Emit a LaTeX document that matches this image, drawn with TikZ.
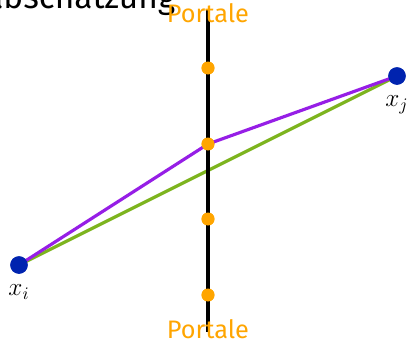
\documentclass[tikz,border=0pt]{standalone}
\usepackage{fontspec}
\setmainfont{Fira Sans}
\usetikzlibrary{arrows}
\definecolor{portal}{RGB}{255,165,0}
\definecolor{pfad}{RGB}{150,30,230}
\definecolor{gerade}{RGB}{125,180,30}
\definecolor{punkt}{RGB}{0,35,175}

\begin{document}
\begin{tikzpicture}[x=0.02cm,y=-0.02cm,line width=2pt,
  portaldot/.style={circle,fill=portal,inner sep=0pt,minimum size=0.26cm},
  endpunkt/.style={circle,fill=punkt,inner sep=0pt,minimum size=0.35cm},
  portaltext/.style={text=portal,font=\Large,inner sep=0pt}]
 \useasboundingbox (0,0) rectangle (410,345);
 \clip (0,0) rectangle (410,345);

 \node[anchor=base east,font=\fontsize{19}{22}\selectfont,inner sep=0pt] (titel) at (177,8) {abschätzung};

 \coordinate (oben) at (208,10);
 \coordinate (unten) at (208,332);
 \node[endpunkt,label={[font=\Large,label distance=1pt]below:$x_i$}] (xi) at (19,265) {};
 \node[endpunkt,label={[font=\Large,label distance=1pt]below:$x_j$}] (xj) at (397,76) {};

 \node[portaldot] (p1) at (208,68) {};
 \node[portaldot] (p2) at (208,144) {};
 \node[portaldot] (p3) at (208,219) {};
 \node[portaldot] (p4) at (208,295) {};

 \draw[gerade,line width=1.8pt] (xi.center) -- (xj.center);
 \draw[line width=2.3pt] (oben) -- (unten);
 \draw[pfad,line width=1.8pt] (xi.center) -- (p2.center) -- (xj.center);

 % Punkte nach oben holen
 \foreach \p in {p1,p2,p3,p4}
   \fill[portal] (\p) circle (0.13cm);
 \fill[punkt] (xi) circle (0.175cm) (xj) circle (0.175cm);

 \node[portaltext] (ptop) at (208,13) {Portale};
 \node[portaltext] (pbot) at (208,329) {Portale};
\end{tikzpicture}
\end{document}
